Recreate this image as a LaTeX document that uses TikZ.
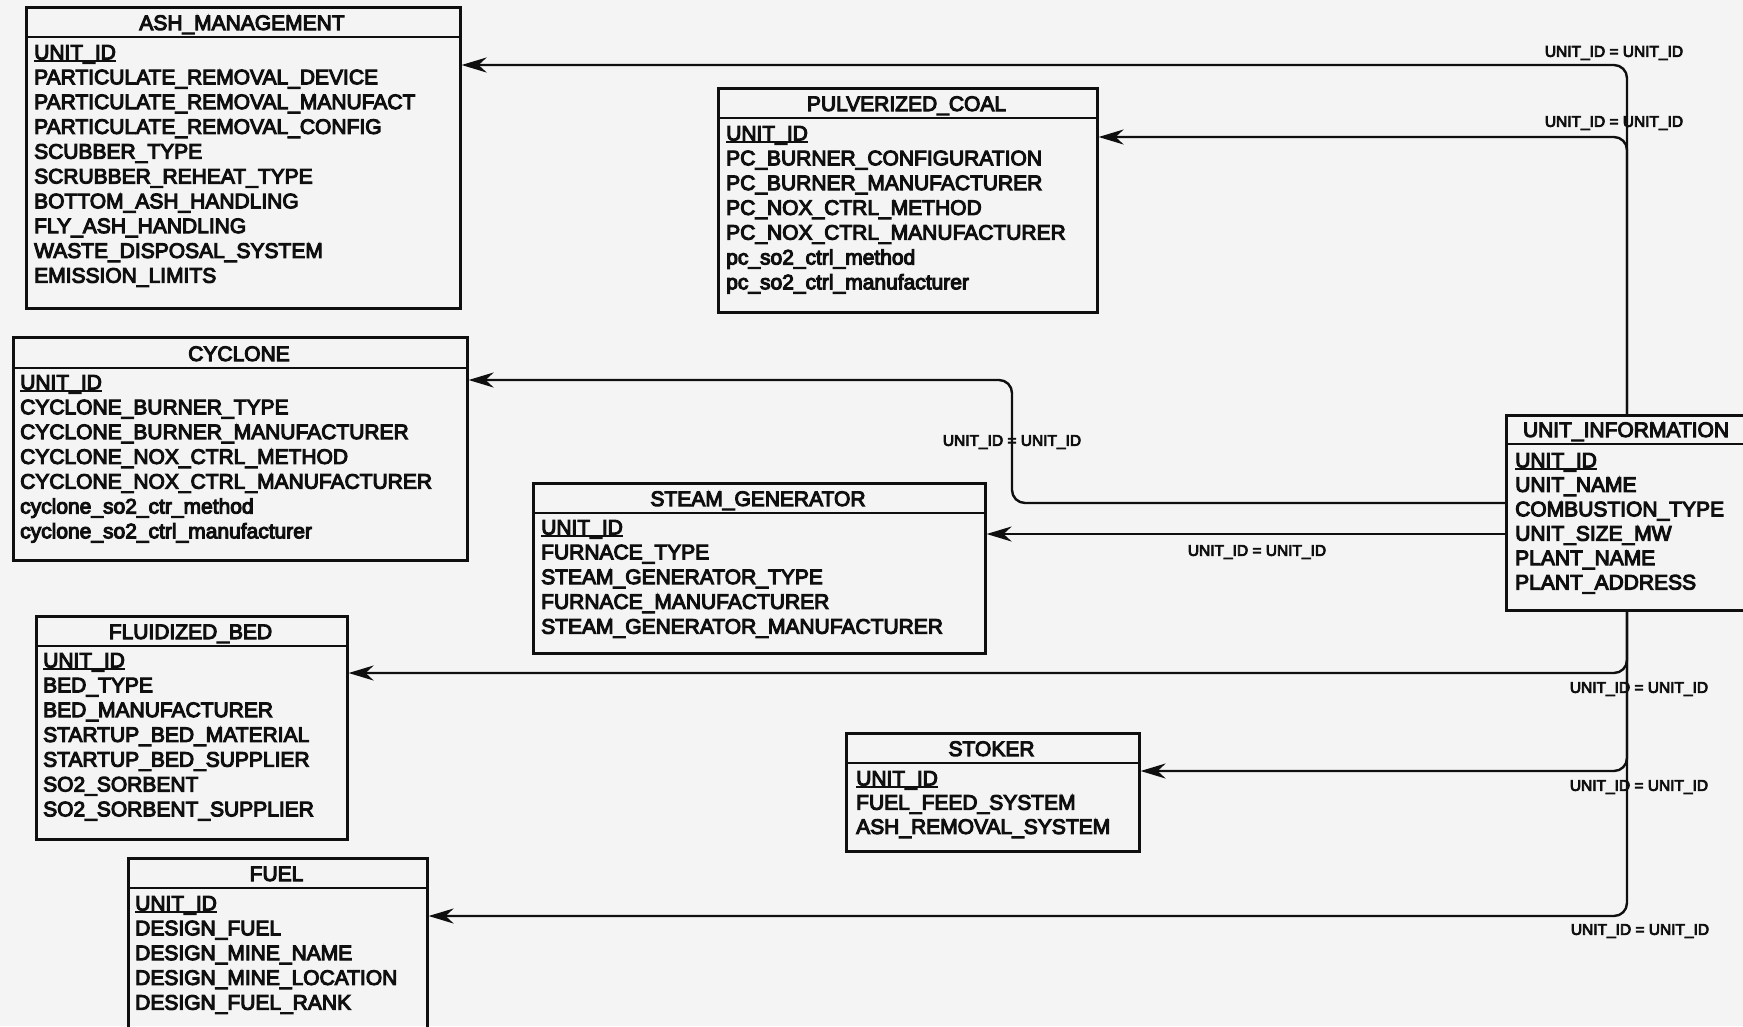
\documentclass[tikz,border=0pt]{standalone}
\usepackage{fontspec}
\newfontfamily\erfont{Liberation Sans}[FakeBold=5]
\usetikzlibrary{arrows.meta,calc}
\definecolor{bgc}{RGB}{244,244,244}
\definecolor{ink}{RGB}{15,15,15}
\newcommand\ulid[1]{\setbox0\hbox{#1}\rlap{\rule[-2.6pt]{\wd0}{1.9pt}}\box0}
\newcommand\ertable[7]{%
  \node[tbl, minimum width={#4-#2}, minimum height={#5-#3}] (#1) at (#2,#3) {};
  \draw[sepline] (#2,#6) -- (#4,#6);
  \node[ttl] (#1-t) at ({(#2+#4)/2}, #6-7) {#7};
}
\newcommand\errows[5]{%
  \foreach \t [count=\i] in {#5} {\node[attr] (#1-\i) at (#2, {#3+7.5+(\i-1)*#4}) {\t};}
}
\begin{document}
\begin{tikzpicture}[x=1pt,y=-1pt,
  tbl/.style={draw=ink, line width=2.6pt, rectangle, inner sep=0pt, anchor=north west},
  sepline/.style={draw=ink, line width=2.2pt},
  ttl/.style={font=\erfont\fontsize{21}{24}\selectfont, text=ink, anchor=base, inner sep=0pt},
  attr/.style={font=\erfont\fontsize{21}{24}\selectfont, text=ink, anchor=base west, inner sep=0pt},
  conn/.style={draw=ink, line width=2.4pt, rounded corners=13pt, -{Stealth[length=25pt,width=15pt,inset=8pt]}},
  lbl/.style={font=\erfont\fontsize{15.5}{17}\selectfont, text=ink, inner sep=0pt}]
\useasboundingbox (0,0) rectangle (1743,1026);
\fill[bgc] (0,0) rectangle (1743,1026);
\clip (0,0) rectangle (1743,1026);

% tables
\ertable{ash}{25}{6}{459}{307}{37}{ASH\_MANAGEMENT}
\errows{ash}{34}{52}{24.8}{\ulid{UNIT\_ID},PARTICULATE\_REMOVAL\_DEVICE,PARTICULATE\_REMOVAL\_MANUFACT,PARTICULATE\_REMOVAL\_CONFIG,SCUBBER\_TYPE,SCRUBBER\_REHEAT\_TYPE,BOTTOM\_ASH\_HANDLING,FLY\_ASH\_HANDLING,WASTE\_DISPOSAL\_SYSTEM,EMISSION\_LIMITS}

\ertable{pc}{717}{87}{1096}{311}{118}{PULVERIZED\_COAL}
\errows{pc}{726}{133}{24.8}{\ulid{UNIT\_ID},PC\_BURNER\_CONFIGURATION,PC\_BURNER\_MANUFACTURER,PC\_NOX\_CTRL\_METHOD,PC\_NOX\_CTRL\_MANUFACTURER,pc\_so2\_ctrl\_method,pc\_so2\_ctrl\_manufacturer}

\ertable{cyc}{12}{336}{466}{559}{368}{CYCLONE}
\errows{cyc}{20}{382}{24.8}{\ulid{UNIT\_ID},CYCLONE\_BURNER\_TYPE,CYCLONE\_BURNER\_MANUFACTURER,CYCLONE\_NOX\_CTRL\_METHOD,CYCLONE\_NOX\_CTRL\_MANUFACTURER,cyclone\_so2\_ctr\_method,cyclone\_so2\_ctrl\_manufacturer}

\ertable{sg}{532}{482}{984}{652}{513}{STEAM\_GENERATOR}
\errows{sg}{541}{527}{24.8}{\ulid{UNIT\_ID},FURNACE\_TYPE,STEAM\_GENERATOR\_TYPE,FURNACE\_MANUFACTURER,STEAM\_GENERATOR\_MANUFACTURER}

\ertable{fb}{35}{615}{346}{838}{646}{FLUIDIZED\_BED}
\errows{fb}{43}{660}{24.8}{\ulid{UNIT\_ID},BED\_TYPE,BED\_MANUFACTURER,STARTUP\_BED\_MATERIAL,STARTUP\_BED\_SUPPLIER,SO2\_SORBENT,SO2\_SORBENT\_SUPPLIER}

\ertable{fuel}{127}{857}{426}{1045}{888}{FUEL}
\errows{fuel}{135}{903}{24.8}{\ulid{UNIT\_ID},DESIGN\_FUEL,DESIGN\_MINE\_NAME,DESIGN\_MINE\_LOCATION,DESIGN\_FUEL\_RANK}

\ertable{stk}{845}{732}{1138}{850}{763}{STOKER}
\errows{stk}{856}{778}{24.2}{\ulid{UNIT\_ID},FUEL\_FEED\_SYSTEM,ASH\_REMOVAL\_SYSTEM}

\ertable{ui}{1505}{414}{1747}{609}{444}{UNIT\_INFORMATION}
\errows{ui}{1515}{460}{24.4}{\ulid{UNIT\_ID},UNIT\_NAME,COMBUSTION\_TYPE,UNIT\_SIZE\_MW,PLANT\_NAME,PLANT\_ADDRESS}

% connectors
\draw[conn] ([xshift=122pt]ui.north west) |- ([yshift=-59pt]ash.north east);
\draw[conn] ([xshift=122pt]ui.north west) |- ([yshift=-50pt]pc.north east);
\draw[conn] ([yshift=-89pt]ui.north west) -- (1012,503) -- (1012,380) -- ([yshift=-44pt]cyc.north east);
\draw[conn] ([yshift=-120pt]ui.north west) -- ([yshift=-120pt]ui.north west -| sg.east);
\draw[conn] ([xshift=122pt]ui.south west) |- ([yshift=-58pt]fb.north east);
\draw[conn] ([xshift=122pt]ui.south west) |- ([yshift=-39pt]stk.north east);
\draw[conn] ([xshift=122pt]ui.south west) |- ([yshift=-59pt]fuel.north east);

% labels
\node[lbl] (l1) at (1614,53) {UNIT\_ID = UNIT\_ID};
\node[lbl] (l2) at (1614,123) {UNIT\_ID = UNIT\_ID};
\node[lbl] (l3) at (1012,442) {UNIT\_ID = UNIT\_ID};
\node[lbl] (l4) at (1257,552) {UNIT\_ID = UNIT\_ID};
\node[lbl] (l5) at (1639,689) {UNIT\_ID = UNIT\_ID};
\node[lbl] (l6) at (1639,787) {UNIT\_ID = UNIT\_ID};
\node[lbl] (l7) at (1640,931) {UNIT\_ID = UNIT\_ID};
\end{tikzpicture}
\end{document}
